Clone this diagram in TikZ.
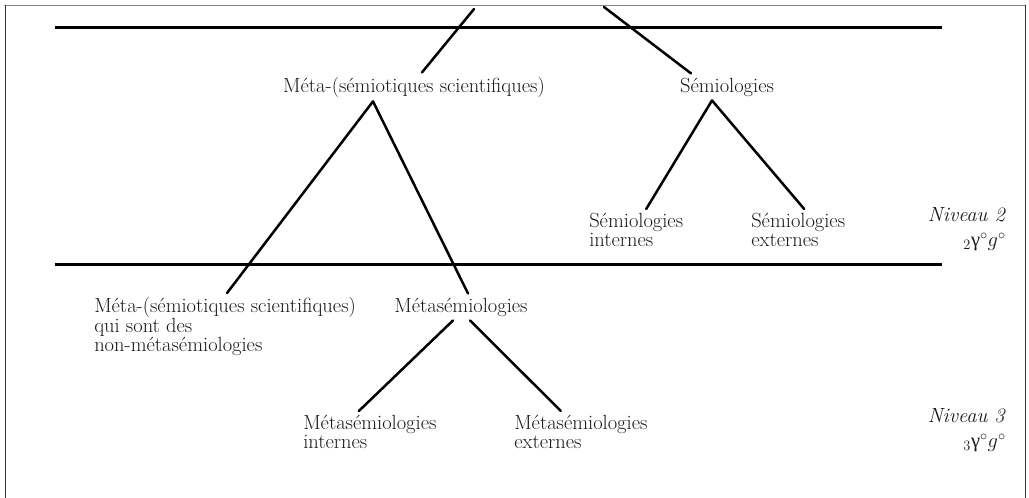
\documentclass[tikz,border=0pt]{standalone}
\usepackage{fontspec}
\usepackage{fix-cm}
\usepackage{tikz}
\newfontfamily\grk{Liberation Serif}

\begin{document}
\begin{tikzpicture}[x=1pt,y=-1pt,line width=2.5pt,line cap=round,line join=round,
  bar/.style={line width=3pt,line cap=butt},
  lbl/.style={font=\fontsize{20.5}{18.5}\selectfont,inner sep=3pt,text=black!90},
  lbls/.style={lbl,align=left,anchor=north west},
  niv/.style={lbl,align=right,anchor=north east}]
\useasboundingbox (0,0) rectangle (1029,498);
% frame
\draw[line width=1pt,gray] (5,5) -- (1025,5);
\draw[line width=1pt,black!80] (5,5) -- (5,498) (1025,5) -- (1025,498);
% level bars
\draw[bar] (55,27) -- (942,27);
\draw[bar] (55,264) -- (942,264);
% labels
\node[lbl,anchor=base] (meta) at (414,92) {Méta-(sémiotiques scientifiques)};
\node[lbl,anchor=base] (semio) at (727,92) {Sémiologies};
\node[lbls] (semint) at (585,209) {Sémiologies\\internes};
\node[lbls] (semext) at (747,209) {Sémiologies\\externes};
\node[lbls] (nonmeta) at (90,293) {Méta-(sémiotiques scientifiques)\\qui sont des\\non-métasémiologies};
\node[lbl,anchor=base] (metasem) at (461,312) {Métasémiologies};
\node[lbls] (msint) at (299,411) {Métasémiologies\\internes};
\node[lbls] (msext) at (510,411) {Métasémiologies\\externes};
\node[niv] (niv2) at (1010,203) {\textit{Niveau 2}\\[7pt]$_2${\grk γ}$^\circ g^\circ$};
\node[niv] (niv3) at (1010,404) {\textit{Niveau 3}\\[7pt]$_3${\grk γ}$^\circ g^\circ$};
% branches
\coordinate (upL) at (474,9);
\coordinate (upR) at (604,7);
\draw (upL) -- ([xshift=8pt]meta.north);
\draw (upR) -- ([xshift=-36pt]semio.north);
\draw ([xshift=2pt]nonmeta.north) -- ([xshift=-41pt]meta.south) -- ([xshift=7pt]metasem.north);
\draw ([xshift=10pt]semint.north) -- ([xshift=-15pt]semio.south) -- ([xshift=6pt]semext.north);
\draw ([xshift=-11pt]msint.north) -- ([xshift=-8pt]metasem.south);
\draw ([xshift=9pt]metasem.south) -- ([xshift=-20pt]msext.north);
\end{tikzpicture}
\end{document}
